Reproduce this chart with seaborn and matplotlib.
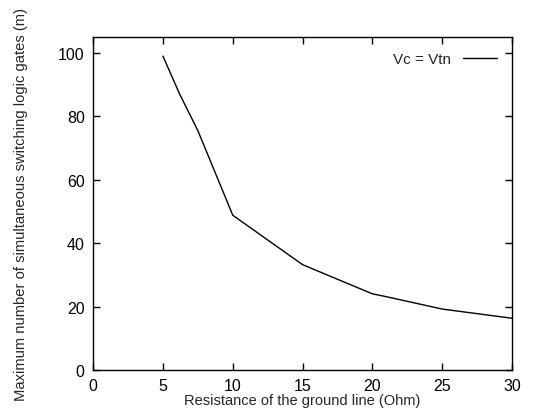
import numpy as np
import pandas as pd
import matplotlib
matplotlib.use("Agg")
import matplotlib.pyplot as plt
import seaborn as sns

# resistance (Ohm) vs max number of simultaneous switching gates
resistance = [5, 6.2, 7.5, 10, 15, 20, 21, 25, 30]
max_gates = [99, 87, 75.5, 48.8, 33.2, 24, 23.1, 19.2, 16.3]
series_name = "Vc = Vtn"

df = pd.DataFrame({"R": resistance, "m": max_gates, "curve": series_name})

sns.set_style("ticks")
plt.rcParams["font.family"] = ["Liberation Sans", "DejaVu Sans"]

fig = plt.figure(figsize=(5.38, 4.14), dpi=100)
ax = fig.add_axes([0.173, 0.104, 0.779, 0.804])

sns.lineplot(data=df, x="R", y="m", hue="curve", palette=["black"],
             linewidth=1.0, ax=ax, sort=False)

ax.set_xlim(0, 30)
ax.set_ylim(0, 105)
ax.set_xticks(range(0, 31, 5))
ax.set_yticks(range(0, 101, 20))
ax.tick_params(direction="in", top=True, right=True, length=5, width=1,
               labelsize=11.5, colors="black", pad=6)
for s in ax.spines.values():
    s.set_visible(True)
    s.set_linewidth(1.0)
    s.set_color("black")

ax.set_xlabel("Resistance of the ground line (Ohm)", fontsize=10.5, labelpad=0)
ax.set_ylabel("Maximum number of simultaneous switching logic gates (m)",
              fontsize=10.6, labelpad=22)

ax.legend(loc="upper right", frameon=False, markerfirst=False, fontsize=11,
          handlelength=2.2, borderaxespad=0.6)

fig.savefig("out.png", dpi=100)
